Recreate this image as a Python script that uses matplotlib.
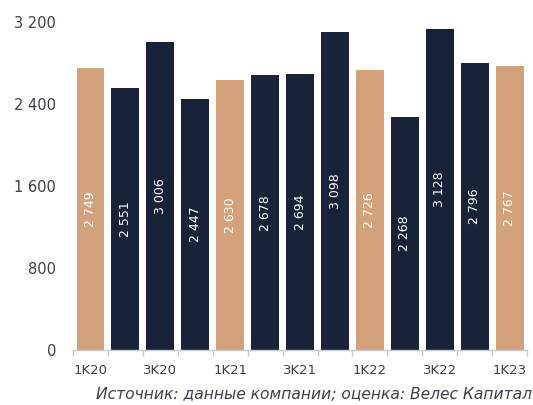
import matplotlib
matplotlib.use("Agg")
import matplotlib.pyplot as plt
import numpy as np

# quarterly values
quarters = ["1K20", "2K20", "3K20", "4K20", "1K21", "2K21", "3K21", "4K21",
            "1K22", "2K22", "3K22", "4K22", "1K23"]
values = [2749, 2551, 3006, 2447, 2630, 2678, 2694, 3098, 2726, 2268, 3128, 2796, 2767]
highlight = [True, False, False, False, True, False, False, False, True, False, False, False, True]
yticks = [0, 800, 1600, 2400, 3200]
source = "Источник: данные компании; оценка: Велес Капитал"

TAN = "#D4A27A"
NAVY = "#18233A"
TEXT = "#3a3f4f"


def fmt(v):
    return f"{v:,}".replace(",", " ")


plt.rcParams['font.family'] = ['DejaVu Sans']

fig = plt.figure(figsize=(5.33, 4.05), dpi=100)
ax = fig.add_axes([0.137, 0.136, 0.852, 0.810])

x = np.arange(len(quarters))
colors = [TAN if h else NAVY for h in highlight]
ax.bar(x, values, width=0.8, color=colors, zorder=2)

for xi, v in zip(x, values):
    ax.text(xi, v / 2, fmt(v), rotation=90, ha="center", va="center",
            color="white", fontsize=9)

ax.set_xlim(-0.5, len(quarters) - 0.5)
ax.set_ylim(0, 3200)
ax.set_yticks(yticks)
ax.set_yticklabels([fmt(t) for t in yticks], fontsize=10.5, color=TEXT)
ax.tick_params(axis="y", length=0, pad=12)

ax.set_xticks(x[::2])
ax.set_xticklabels(quarters[::2], fontsize=9.5, color=TEXT)
ax.tick_params(axis="x", length=0, pad=10)
# small ticks on slot boundaries
ax.set_xticks(np.arange(-0.5, len(quarters)), minor=True)
ax.tick_params(axis="x", which="minor", length=4, color="#c8ccd0", width=1)

for s in ["top", "right", "left"]:
    ax.spines[s].set_visible(False)
ax.spines["bottom"].set_color("#c8ccd0")
ax.spines["bottom"].set_linewidth(1)

fig.text(0.998, 0.008, source, ha="right", va="bottom", fontsize=11.2,
         style="italic", color=TEXT)

fig.savefig("out.png", dpi=100)
